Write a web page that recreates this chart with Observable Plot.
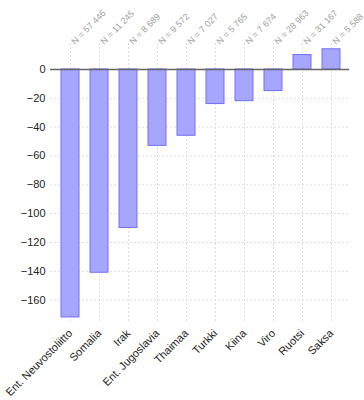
<!DOCTYPE html>
<html><head><meta charset="utf-8">
<script src="https://cdn.jsdelivr.net/npm/d3@7"></script>
<script src="https://cdn.jsdelivr.net/npm/@observablehq/plot@0.6"></script>
<style>body{margin:0;background:#fff;font-family:"Liberation Sans",Arial,sans-serif;}</style>
</head><body><div id="chart"></div>
<script>
const countries = ["Ent. Neuvostoliitto","Somalia","Irak","Ent. Jugoslavia","Thaimaa","Turkki","Kiina","Viro","Ruotsi","Saksa"];
const values = [-172, -141, -110, -53, -46, -24, -22, -15, 10, 14];
const nLabels = ["N = 57 446","N = 11 245","N = 8 689","N = 9 572","N = 7 027","N = 5 765","N = 7 674","N = 28 963","N = 31 167","N = 5 588"];
const yTicks = [0, -20, -40, -60, -80, -100, -120, -140, -160];

const data = countries.map((c, i) => ({country: c, value: values[i], n: nLabels[i]}));

const chart = Plot.plot({
  width: 364,
  height: 400,
  marginTop: 43,
  marginBottom: 78,
  marginLeft: 50,
  marginRight: 15,
  style: {fontFamily: '"Liberation Sans", Arial, sans-serif', fontSize: "11px", color: "#222", background: "#fff"},
  x: {domain: countries, range: [55.5, 345.5], paddingInner: 0.38, paddingOuter: 0.19, label: null},
  y: {domain: [-175.5, 18], label: null},
  marks: [
    Plot.gridY(yTicks, {stroke: "#ddd", strokeOpacity: 1, strokeDasharray: "2,2"}),
    Plot.gridX({stroke: "#ddd", strokeOpacity: 1, strokeDasharray: "2,2"}),
    Plot.barY(data, {x: "country", y: "value", fill: "#a6a6ff", stroke: "#7070f5", strokeWidth: 1}),
    Plot.ruleY([0], {stroke: "#666", strokeWidth: 1.5}),
    Plot.axisY(yTicks, {tickSize: 0, tickPadding: 5, fontSize: 11, fill: "#222", label: null}),
    Plot.axisX({tickSize: 0, tickPadding: 9, tickRotate: -45, fontSize: 11, fill: "#222", label: null}),
    Plot.text(data, {x: "country", text: "n", frameAnchor: "top", dy: -3, dx: 0, rotate: -45, textAnchor: "start", fill: "#a0a0a0", fontSize: 9})
  ]
});
document.getElementById("chart").appendChild(chart);
</script></body></html>
